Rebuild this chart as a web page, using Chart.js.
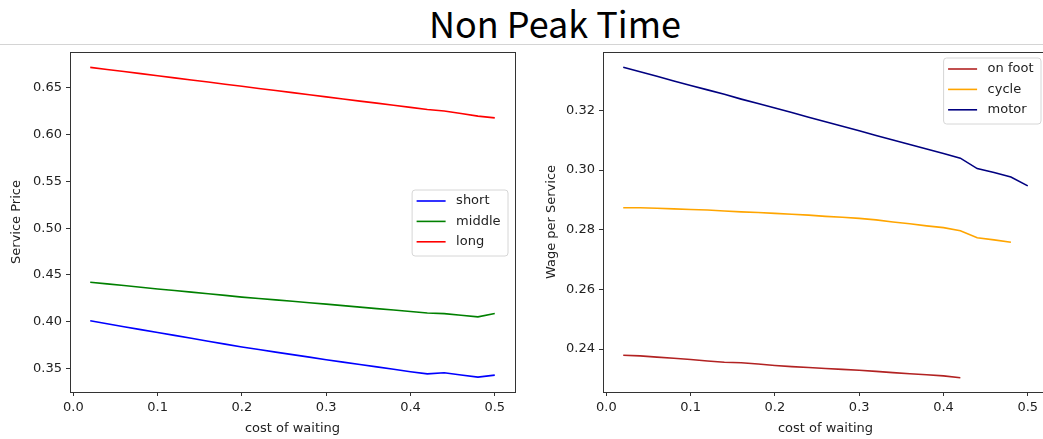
<!DOCTYPE html>
<html>
<head>
<meta charset="utf-8">
<script src="https://cdn.jsdelivr.net/npm/chart.js@4/dist/chart.umd.min.js"></script>
<style>
html,body{margin:0;padding:0;width:1043px;height:439px;overflow:hidden;background:#fff;}
#title{position:absolute;left:0;top:0;width:1110px;text-align:center;font-family:"Noto Sans CJK KR","Noto Sans",sans-serif;font-size:36px;line-height:44px;color:#000;}
#rule{position:absolute;left:0;top:44px;width:1043px;height:1px;background:#d4d4d4;}
#c1{position:absolute;left:0;top:45px;}
#c2{position:absolute;left:533px;top:45px;}
</style>
</head>
<body>
<div id="title">Non Peak Time</div>
<div id="rule"></div>
<canvas id="c1" width="530" height="394"></canvas>
<canvas id="c2" width="530" height="394"></canvas>
<script>
// ---- data ----
const costOfWaiting = [0.02,0.04,0.06,0.08,0.10,0.12,0.14,0.16,0.18,0.20,0.22,0.24,0.26,0.28,0.30,0.32,0.34,0.36,0.38,0.40,0.42,0.44,0.46,0.48,0.50];

const priceShort  = [0.4011,0.3979,0.3948,0.3917,0.3886,0.3855,0.3824,0.3793,0.3762,0.3731,0.3704,0.3677,0.3650,0.3623,0.3596,0.3570,0.3545,0.3519,0.3494,0.3468,0.3444,0.3456,0.3432,0.3410,0.3431];
const priceMiddle = [0.4423,0.4405,0.4387,0.4369,0.4351,0.4334,0.4317,0.4300,0.4282,0.4264,0.4249,0.4234,0.4219,0.4204,0.4189,0.4173,0.4157,0.4141,0.4126,0.4110,0.4095,0.4088,0.4070,0.4053,0.4088];
const priceLong   = [0.6716,0.6694,0.6671,0.6649,0.6626,0.6604,0.6581,0.6559,0.6536,0.6514,0.6491,0.6469,0.6446,0.6424,0.6401,0.6379,0.6356,0.6334,0.6311,0.6289,0.6266,0.6250,0.6224,0.6196,0.6177];

const wageOnFoot = [0.2379,0.2377,0.2373,0.2369,0.2365,0.2360,0.2356,0.2354,0.2350,0.2345,0.2341,0.2338,0.2335,0.2332,0.2329,0.2325,0.2321,0.2317,0.2314,0.2310,0.2304];
const wageCycle  = [0.2874,0.2874,0.2872,0.2870,0.2868,0.2866,0.2863,0.2860,0.2858,0.2855,0.2852,0.2849,0.2845,0.2842,0.2838,0.2833,0.2826,0.2820,0.2813,0.2807,0.2797,0.2773,0.2766,0.2758];
const wageMotor  = [0.3345,0.3330,0.3315,0.3299,0.3284,0.3269,0.3254,0.3238,0.3223,0.3208,0.3193,0.3177,0.3162,0.3147,0.3132,0.3116,0.3101,0.3086,0.3071,0.3056,0.3040,0.3005,0.2992,0.2977,0.2947];

const xTickValues = [0.0,0.1,0.2,0.3,0.4,0.5];
const priceTickValues = [0.35,0.40,0.45,0.50,0.55,0.60,0.65];
const wageTickValues = [0.24,0.26,0.28,0.30,0.32];

const titleText = "Non Peak Time";
const xTitle = "cost of waiting";
const leftYTitle = "Service Price";
const rightYTitle = "Wage per Service";

// ---- helpers ----
function pts(vals){ return vals.map((v,i)=>({x:costOfWaiting[i], y:v})); }
function ds(label, vals, color){
  return {label, data: pts(vals), borderColor: color, backgroundColor: color, borderWidth: 1.6, pointRadius: 0, tension: 0, fill: false};
}

const FONT = 'DejaVu Sans';
const AX = '#333333';

const framePlugin = {
  id: 'frame',
  afterDatasetsDraw(chart){
    const {ctx, chartArea:a} = chart;
    const l = Math.round(a.left)+0.5, t = Math.round(a.top)+0.5, r = Math.round(a.right)+0.5, b = Math.round(a.bottom)+0.5;
    ctx.save();
    ctx.strokeStyle = AX; ctx.lineWidth = 1;
    ctx.strokeRect(l, t, r-l, b-t);
    ctx.restore();
  }
};

const boxLegend = {
  id: 'boxLegend',
  afterDraw(chart, args, opts){
    const {ctx, chartArea:a} = chart;
    const items = chart.data.datasets;
    ctx.save();
    ctx.font = '13px "' + FONT + '"';
    let maxW = 0;
    items.forEach(d => { maxW = Math.max(maxW, ctx.measureText(d.label).width); });
    const w = 4.5 + 29 + 10.5 + maxW + 7.5;
    const h = 66;
    const x = a.right - opts.insetRight - w;
    let y;
    if (opts.vpos === 'center') y = (a.top + a.bottom)/2 - h/2 + 1;
    else y = a.top + opts.insetTop;
    // box
    const rr = 3;
    ctx.beginPath();
    ctx.moveTo(x+rr, y);
    ctx.lineTo(x+w-rr, y); ctx.arcTo(x+w, y, x+w, y+rr, rr);
    ctx.lineTo(x+w, y+h-rr); ctx.arcTo(x+w, y+h, x+w-rr, y+h, rr);
    ctx.lineTo(x+rr, y+h); ctx.arcTo(x, y+h, x, y+h-rr, rr);
    ctx.lineTo(x, y+rr); ctx.arcTo(x, y, x+rr, y, rr);
    ctx.closePath();
    ctx.fillStyle = 'rgba(255,255,255,0.8)';
    ctx.fill();
    ctx.strokeStyle = '#d6d6d6'; ctx.lineWidth = 1;
    ctx.stroke();
    items.forEach((d, i) => {
      const ry = y + 11 + i*20.4;
      ctx.beginPath();
      ctx.moveTo(x+4.5, ry); ctx.lineTo(x+33.5, ry);
      ctx.strokeStyle = d.borderColor; ctx.lineWidth = 1.6;
      ctx.stroke();
      ctx.fillStyle = '#222';
      ctx.textBaseline = 'middle';
      ctx.textAlign = 'left';
      ctx.fillText(d.label, x+44, ry);
    });
    ctx.restore();
  }
};

function makeOptions(o){
  return {
    responsive: false,
    animation: false,
    devicePixelRatio: 1,
    layout: {padding: {top: 7, right: 15, left: 0, bottom: 0}},
    plugins: {
      legend: {display: false},
      tooltip: {enabled: false},
      boxLegend: o.legend
    },
    scales: {
      x: {
        type: 'linear',
        min: -0.004, max: 0.524,
        afterBuildTicks: s => { s.ticks = xTickValues.map(v => ({value: v})); },
        afterFit: s => { s.height = 47; s.paddingLeft = 0; s.paddingRight = 0; },
        ticks: {font: {family: FONT, size: 13}, color: '#222', padding: 4, maxRotation: 0, autoSkip: false,
                callback: v => Number(v).toFixed(1)},
        grid: {display: true, drawOnChartArea: false, drawTicks: true, tickLength: 4, color: AX, lineWidth: 1},
        border: {display: false},
        title: {display: true, text: xTitle, font: {family: FONT, size: 13}, color: '#222', padding: {top: 0, bottom: 3}}
      },
      y: {
        type: 'linear',
        min: o.yMin, max: o.yMax,
        afterBuildTicks: s => { s.ticks = o.yTicks.map(v => ({value: v})); },
        afterFit: s => { s.width = 70; s.paddingTop = 0; s.paddingBottom = 0; },
        ticks: {font: {family: FONT, size: 13}, color: '#222', padding: 4, autoSkip: false,
                callback: v => Number(v).toFixed(2)},
        grid: {display: true, drawOnChartArea: false, drawTicks: true, tickLength: 4, color: AX, lineWidth: 1},
        border: {display: false},
        title: {display: true, text: o.yTitle, font: {family: FONT, size: 13}, color: '#222', padding: {top: o.yTitlePad, bottom: 0}}
      }
    }
  };
}

new Chart(document.getElementById('c1'), {
  type: 'line',
  data: {datasets: [
    ds('short', priceShort, '#0000ff'),
    ds('middle', priceMiddle, '#008000'),
    ds('long', priceLong, '#ff0000')
  ]},
  options: makeOptions({yMin: 0.3251, yMax: 0.6880, yTicks: priceTickValues, yTitle: leftYTitle, yTitlePad: 9,
                        legend: {vpos: 'center', insetRight: 7, insetTop: 0}}),
  plugins: [framePlugin, boxLegend]
});

new Chart(document.getElementById('c2'), {
  type: 'line',
  data: {datasets: [
    ds('on foot', wageOnFoot, '#b22222'),
    ds('cycle', wageCycle, '#ffa500'),
    ds('motor', wageMotor, '#000080')
  ]},
  options: makeOptions({yMin: 0.2256, yMax: 0.3396, yTicks: wageTickValues, yTitle: rightYTitle, yTitlePad: 11,
                        legend: {vpos: 'top', insetRight: 7, insetTop: 6}}),
  plugins: [framePlugin, boxLegend]
});
</script>
</body>
</html>
